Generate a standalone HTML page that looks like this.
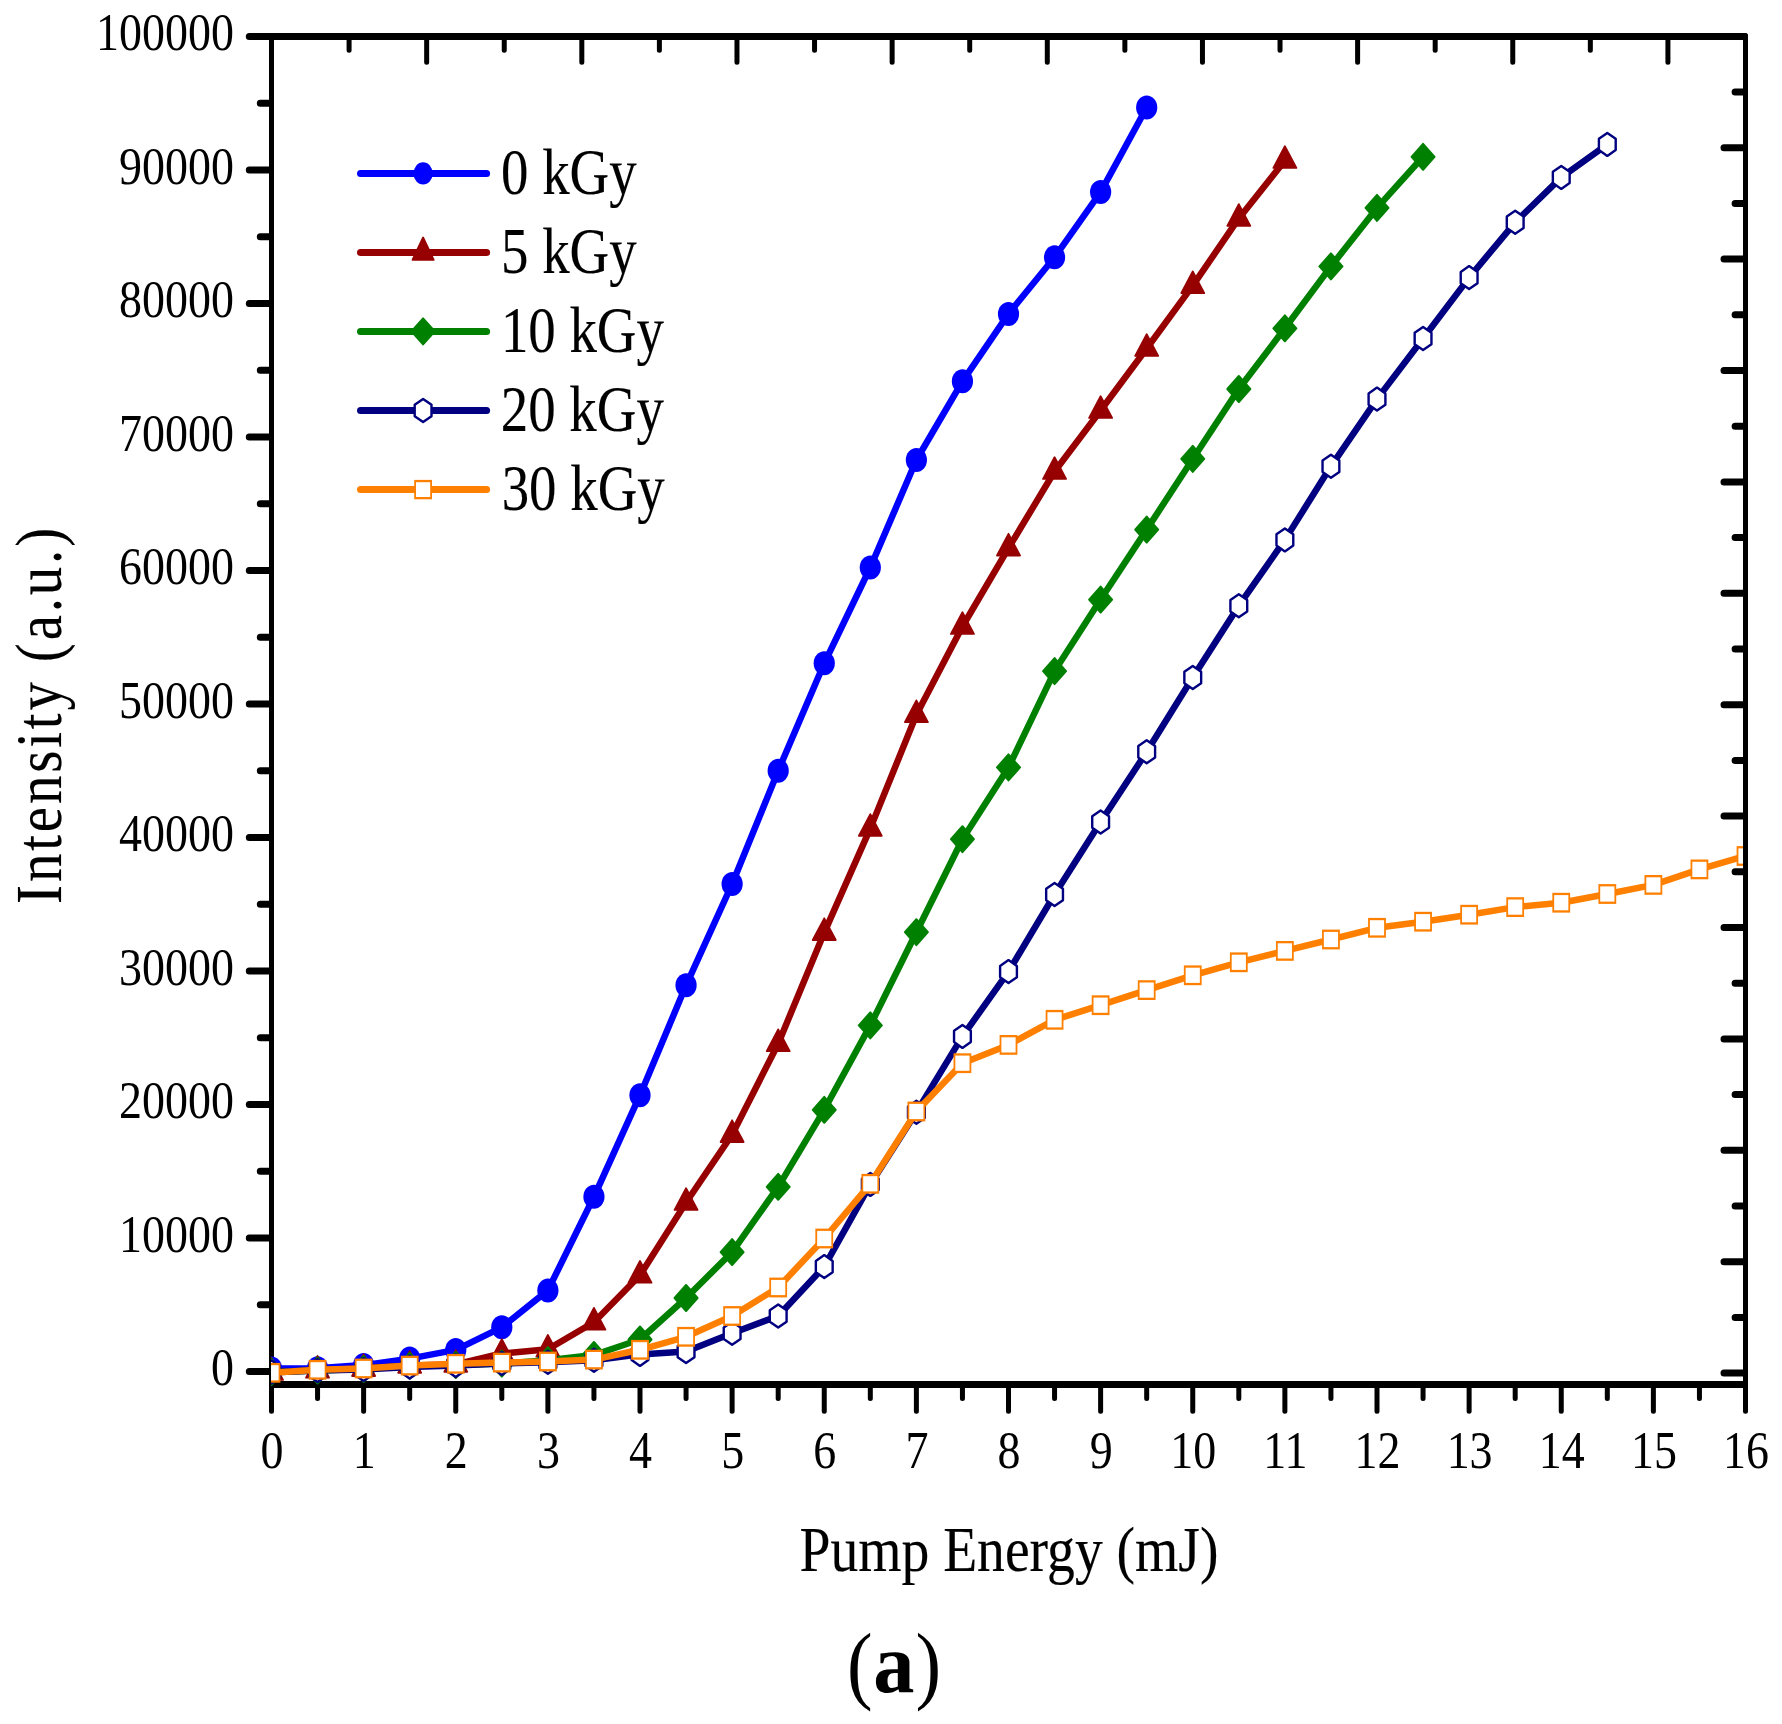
<!DOCTYPE html>
<html lang="en"><head><meta charset="utf-8"><title>Intensity vs Pump Energy (a)</title>
<style>html,body{margin:0;padding:0;background:#fff}body{width:1782px;height:1724px;overflow:hidden}svg{display:block}text{font-family:"Liberation Serif","Times New Roman",serif;fill:#000}</style></head><body>
<svg width="1782" height="1724" viewBox="0 0 1782 1724">
<rect width="1782" height="1724" fill="#fff"/>
<defs><clipPath id="plot"><rect x="271" y="33" width="1472" height="1355"/></clipPath></defs>
<path d="M249.3 36.5H1744.5 M260.3 103.25H270.5 M249.3 170.01H270.5 M260.3 236.76H270.5 M249.3 303.52H270.5 M260.3 370.27H270.5 M249.3 437.03H270.5 M260.3 503.78H270.5 M249.3 570.54H270.5 M260.3 637.29H270.5 M249.3 704.05H270.5 M260.3 770.8H270.5 M249.3 837.56H270.5 M260.3 904.31H270.5 M249.3 971.07H270.5 M260.3 1037.82H270.5 M249.3 1104.58H270.5 M260.3 1171.34H270.5 M249.3 1238.09H270.5 M260.3 1304.84H270.5 M249.3 1371.6H270.5 M1724 1373.1H1744.5 M1735.1 1317.4H1744.5 M1724 1261.7H1744.5 M1735.1 1206H1744.5 M1724 1150.3H1744.5 M1735.1 1094.6H1744.5 M1724 1038.9H1744.5 M1735.1 983.2H1744.5 M1724 927.5H1744.5 M1735.1 871.8H1744.5 M1724 816.1H1744.5 M1735.1 760.4H1744.5 M1724 704.7H1744.5 M1735.1 649H1744.5 M1724 593.3H1744.5 M1735.1 537.6H1744.5 M1724 481.9H1744.5 M1735.1 426.2H1744.5 M1724 370.5H1744.5 M1735.1 314.8H1744.5 M1724 259.1H1744.5 M1735.1 203.4H1744.5 M1724 147.7H1744.5 M1735.1 92H1744.5" stroke="#000" stroke-width="7" stroke-linecap="round" fill="none"/>
<path d="M269 1384.5H1748" stroke="#000" stroke-width="7" fill="none"/>
<path d="M271.5 36.5V1411.2 M1745.5 35.5V1411.2 M363.62 1384.5V1411.2 M455.75 1384.5V1411.2 M547.88 1384.5V1411.2 M640 1384.5V1411.2 M732.12 1384.5V1411.2 M824.25 1384.5V1411.2 M916.38 1384.5V1411.2 M1008.5 1384.5V1411.2 M1100.62 1384.5V1411.2 M1192.75 1384.5V1411.2 M1284.88 1384.5V1411.2 M1377 1384.5V1411.2 M1469.12 1384.5V1411.2 M1561.25 1384.5V1411.2 M1653.38 1384.5V1411.2 M317.56 1384.5V1398.4 M409.69 1384.5V1398.4 M501.81 1384.5V1398.4 M593.94 1384.5V1398.4 M686.06 1384.5V1398.4 M778.19 1384.5V1398.4 M870.31 1384.5V1398.4 M962.44 1384.5V1398.4 M1054.56 1384.5V1398.4 M1146.69 1384.5V1398.4 M1238.81 1384.5V1398.4 M1330.94 1384.5V1398.4 M1423.06 1384.5V1398.4 M1515.19 1384.5V1398.4 M1607.31 1384.5V1398.4 M1699.44 1384.5V1398.4 M349.08 36.5V50.2 M426.66 36.5V62.3 M504.24 36.5V50.2 M581.82 36.5V62.3 M659.39 36.5V50.2 M736.97 36.5V62.3 M814.55 36.5V50.2 M892.13 36.5V62.3 M969.71 36.5V50.2 M1047.29 36.5V62.3 M1124.87 36.5V50.2 M1202.45 36.5V62.3 M1280.03 36.5V50.2 M1357.61 36.5V62.3 M1435.18 36.5V50.2 M1512.76 36.5V62.3 M1590.34 36.5V50.2 M1667.92 36.5V62.3" stroke="#000" stroke-width="5" stroke-linecap="round" fill="none"/>
<g clip-path="url(#plot)">
<polyline points="271.5,1368.4 317.56,1368.2 363.62,1365.1 409.69,1358.6 455.75,1349.9 501.81,1327.3 547.88,1290.4 593.94,1196.8 640,1095.2 686.06,985.3 732.12,884 778.19,770.7 824.25,663.3 870.31,567.5 916.38,460 962.44,381.3 1008.5,313.9 1054.56,257.3 1100.62,192.1 1146.69,107.5" fill="none" stroke="#0000ff" stroke-width="6.5" stroke-linejoin="round" stroke-linecap="round"/>
<ellipse cx="271.5" cy="1368.4" rx="10.6" ry="12.0" fill="#0000ff"/>
<ellipse cx="317.56" cy="1368.2" rx="10.6" ry="12.0" fill="#0000ff"/>
<ellipse cx="363.62" cy="1365.1" rx="10.6" ry="12.0" fill="#0000ff"/>
<ellipse cx="409.69" cy="1358.6" rx="10.6" ry="12.0" fill="#0000ff"/>
<ellipse cx="455.75" cy="1349.9" rx="10.6" ry="12.0" fill="#0000ff"/>
<ellipse cx="501.81" cy="1327.3" rx="10.6" ry="12.0" fill="#0000ff"/>
<ellipse cx="547.88" cy="1290.4" rx="10.6" ry="12.0" fill="#0000ff"/>
<ellipse cx="593.94" cy="1196.8" rx="10.6" ry="12.0" fill="#0000ff"/>
<ellipse cx="640" cy="1095.2" rx="10.6" ry="12.0" fill="#0000ff"/>
<ellipse cx="686.06" cy="985.3" rx="10.6" ry="12.0" fill="#0000ff"/>
<ellipse cx="732.12" cy="884" rx="10.6" ry="12.0" fill="#0000ff"/>
<ellipse cx="778.19" cy="770.7" rx="10.6" ry="12.0" fill="#0000ff"/>
<ellipse cx="824.25" cy="663.3" rx="10.6" ry="12.0" fill="#0000ff"/>
<ellipse cx="870.31" cy="567.5" rx="10.6" ry="12.0" fill="#0000ff"/>
<ellipse cx="916.38" cy="460" rx="10.6" ry="12.0" fill="#0000ff"/>
<ellipse cx="962.44" cy="381.3" rx="10.6" ry="12.0" fill="#0000ff"/>
<ellipse cx="1008.5" cy="313.9" rx="10.6" ry="12.0" fill="#0000ff"/>
<ellipse cx="1054.56" cy="257.3" rx="10.6" ry="12.0" fill="#0000ff"/>
<ellipse cx="1100.62" cy="192.1" rx="10.6" ry="12.0" fill="#0000ff"/>
<ellipse cx="1146.69" cy="107.5" rx="10.6" ry="12.0" fill="#0000ff"/>
<polyline points="271.5,1372.5 317.56,1370.3 363.62,1368.6 409.69,1365.4 455.75,1364.4 501.81,1353.5 547.88,1349.3 593.94,1322.2 640,1275.3 686.06,1202.5 732.12,1134.6 778.19,1043.7 824.25,932.6 870.31,828.4 916.38,714.7 962.44,626.5 1008.5,548.1 1054.56,471.5 1100.62,410.5 1146.69,348.5 1192.75,285.7 1238.81,218.4 1284.88,160.5" fill="none" stroke="#960000" stroke-width="6.5" stroke-linejoin="round" stroke-linecap="round"/>
<polygon points="271.5,1358.2 283,1379.9 260,1379.9" fill="#960000" stroke="#960000" stroke-width="1.8" stroke-linejoin="round"/>
<polygon points="317.56,1356 329.06,1377.7 306.06,1377.7" fill="#960000" stroke="#960000" stroke-width="1.8" stroke-linejoin="round"/>
<polygon points="363.62,1354.3 375.12,1376 352.12,1376" fill="#960000" stroke="#960000" stroke-width="1.8" stroke-linejoin="round"/>
<polygon points="409.69,1351.1 421.19,1372.8 398.19,1372.8" fill="#960000" stroke="#960000" stroke-width="1.8" stroke-linejoin="round"/>
<polygon points="455.75,1350.1 467.25,1371.8 444.25,1371.8" fill="#960000" stroke="#960000" stroke-width="1.8" stroke-linejoin="round"/>
<polygon points="501.81,1339.2 513.31,1360.9 490.31,1360.9" fill="#960000" stroke="#960000" stroke-width="1.8" stroke-linejoin="round"/>
<polygon points="547.88,1335 559.38,1356.7 536.38,1356.7" fill="#960000" stroke="#960000" stroke-width="1.8" stroke-linejoin="round"/>
<polygon points="593.94,1307.9 605.44,1329.6 582.44,1329.6" fill="#960000" stroke="#960000" stroke-width="1.8" stroke-linejoin="round"/>
<polygon points="640,1261 651.5,1282.7 628.5,1282.7" fill="#960000" stroke="#960000" stroke-width="1.8" stroke-linejoin="round"/>
<polygon points="686.06,1188.2 697.56,1209.9 674.56,1209.9" fill="#960000" stroke="#960000" stroke-width="1.8" stroke-linejoin="round"/>
<polygon points="732.12,1120.3 743.62,1142 720.62,1142" fill="#960000" stroke="#960000" stroke-width="1.8" stroke-linejoin="round"/>
<polygon points="778.19,1029.4 789.69,1051.1 766.69,1051.1" fill="#960000" stroke="#960000" stroke-width="1.8" stroke-linejoin="round"/>
<polygon points="824.25,918.3 835.75,940 812.75,940" fill="#960000" stroke="#960000" stroke-width="1.8" stroke-linejoin="round"/>
<polygon points="870.31,814.1 881.81,835.8 858.81,835.8" fill="#960000" stroke="#960000" stroke-width="1.8" stroke-linejoin="round"/>
<polygon points="916.38,700.4 927.88,722.1 904.88,722.1" fill="#960000" stroke="#960000" stroke-width="1.8" stroke-linejoin="round"/>
<polygon points="962.44,612.2 973.94,633.9 950.94,633.9" fill="#960000" stroke="#960000" stroke-width="1.8" stroke-linejoin="round"/>
<polygon points="1008.5,533.8 1020,555.5 997,555.5" fill="#960000" stroke="#960000" stroke-width="1.8" stroke-linejoin="round"/>
<polygon points="1054.56,457.2 1066.06,478.9 1043.06,478.9" fill="#960000" stroke="#960000" stroke-width="1.8" stroke-linejoin="round"/>
<polygon points="1100.62,396.2 1112.12,417.9 1089.12,417.9" fill="#960000" stroke="#960000" stroke-width="1.8" stroke-linejoin="round"/>
<polygon points="1146.69,334.2 1158.19,355.9 1135.19,355.9" fill="#960000" stroke="#960000" stroke-width="1.8" stroke-linejoin="round"/>
<polygon points="1192.75,271.4 1204.25,293.1 1181.25,293.1" fill="#960000" stroke="#960000" stroke-width="1.8" stroke-linejoin="round"/>
<polygon points="1238.81,204.1 1250.31,225.8 1227.31,225.8" fill="#960000" stroke="#960000" stroke-width="1.8" stroke-linejoin="round"/>
<polygon points="1284.88,146.2 1296.38,167.9 1273.38,167.9" fill="#960000" stroke="#960000" stroke-width="1.8" stroke-linejoin="round"/>
<polyline points="271.5,1372 317.56,1370.5 363.62,1369 409.69,1365.8 455.75,1365 501.81,1363.6 547.88,1360.2 593.94,1355 640,1339.5 686.06,1298 732.12,1252.1 778.19,1186.8 824.25,1109.8 870.31,1025.4 916.38,932.2 962.44,839.2 1008.5,767.4 1054.56,671.1 1100.62,599.6 1146.69,529.6 1192.75,458.9 1238.81,389 1284.88,328.3 1330.94,266.4 1377,207.9 1423.06,156.8" fill="none" stroke="#008000" stroke-width="6.5" stroke-linejoin="round" stroke-linecap="round"/>
<polygon points="271.5,1359 283,1372 271.5,1385 260,1372" fill="#008000" stroke="#008000" stroke-width="2" stroke-linejoin="round"/>
<polygon points="317.56,1357.5 329.06,1370.5 317.56,1383.5 306.06,1370.5" fill="#008000" stroke="#008000" stroke-width="2" stroke-linejoin="round"/>
<polygon points="363.62,1356 375.12,1369 363.62,1382 352.12,1369" fill="#008000" stroke="#008000" stroke-width="2" stroke-linejoin="round"/>
<polygon points="409.69,1352.8 421.19,1365.8 409.69,1378.8 398.19,1365.8" fill="#008000" stroke="#008000" stroke-width="2" stroke-linejoin="round"/>
<polygon points="455.75,1352 467.25,1365 455.75,1378 444.25,1365" fill="#008000" stroke="#008000" stroke-width="2" stroke-linejoin="round"/>
<polygon points="501.81,1350.6 513.31,1363.6 501.81,1376.6 490.31,1363.6" fill="#008000" stroke="#008000" stroke-width="2" stroke-linejoin="round"/>
<polygon points="547.88,1347.2 559.38,1360.2 547.88,1373.2 536.38,1360.2" fill="#008000" stroke="#008000" stroke-width="2" stroke-linejoin="round"/>
<polygon points="593.94,1342 605.44,1355 593.94,1368 582.44,1355" fill="#008000" stroke="#008000" stroke-width="2" stroke-linejoin="round"/>
<polygon points="640,1326.5 651.5,1339.5 640,1352.5 628.5,1339.5" fill="#008000" stroke="#008000" stroke-width="2" stroke-linejoin="round"/>
<polygon points="686.06,1285 697.56,1298 686.06,1311 674.56,1298" fill="#008000" stroke="#008000" stroke-width="2" stroke-linejoin="round"/>
<polygon points="732.12,1239.1 743.62,1252.1 732.12,1265.1 720.62,1252.1" fill="#008000" stroke="#008000" stroke-width="2" stroke-linejoin="round"/>
<polygon points="778.19,1173.8 789.69,1186.8 778.19,1199.8 766.69,1186.8" fill="#008000" stroke="#008000" stroke-width="2" stroke-linejoin="round"/>
<polygon points="824.25,1096.8 835.75,1109.8 824.25,1122.8 812.75,1109.8" fill="#008000" stroke="#008000" stroke-width="2" stroke-linejoin="round"/>
<polygon points="870.31,1012.4 881.81,1025.4 870.31,1038.4 858.81,1025.4" fill="#008000" stroke="#008000" stroke-width="2" stroke-linejoin="round"/>
<polygon points="916.38,919.2 927.88,932.2 916.38,945.2 904.88,932.2" fill="#008000" stroke="#008000" stroke-width="2" stroke-linejoin="round"/>
<polygon points="962.44,826.2 973.94,839.2 962.44,852.2 950.94,839.2" fill="#008000" stroke="#008000" stroke-width="2" stroke-linejoin="round"/>
<polygon points="1008.5,754.4 1020,767.4 1008.5,780.4 997,767.4" fill="#008000" stroke="#008000" stroke-width="2" stroke-linejoin="round"/>
<polygon points="1054.56,658.1 1066.06,671.1 1054.56,684.1 1043.06,671.1" fill="#008000" stroke="#008000" stroke-width="2" stroke-linejoin="round"/>
<polygon points="1100.62,586.6 1112.12,599.6 1100.62,612.6 1089.12,599.6" fill="#008000" stroke="#008000" stroke-width="2" stroke-linejoin="round"/>
<polygon points="1146.69,516.6 1158.19,529.6 1146.69,542.6 1135.19,529.6" fill="#008000" stroke="#008000" stroke-width="2" stroke-linejoin="round"/>
<polygon points="1192.75,445.9 1204.25,458.9 1192.75,471.9 1181.25,458.9" fill="#008000" stroke="#008000" stroke-width="2" stroke-linejoin="round"/>
<polygon points="1238.81,376 1250.31,389 1238.81,402 1227.31,389" fill="#008000" stroke="#008000" stroke-width="2" stroke-linejoin="round"/>
<polygon points="1284.88,315.3 1296.38,328.3 1284.88,341.3 1273.38,328.3" fill="#008000" stroke="#008000" stroke-width="2" stroke-linejoin="round"/>
<polygon points="1330.94,253.4 1342.44,266.4 1330.94,279.4 1319.44,266.4" fill="#008000" stroke="#008000" stroke-width="2" stroke-linejoin="round"/>
<polygon points="1377,194.9 1388.5,207.9 1377,220.9 1365.5,207.9" fill="#008000" stroke="#008000" stroke-width="2" stroke-linejoin="round"/>
<polygon points="1423.06,143.8 1434.56,156.8 1423.06,169.8 1411.56,156.8" fill="#008000" stroke="#008000" stroke-width="2" stroke-linejoin="round"/>
<polyline points="271.5,1372 317.56,1370.5 363.62,1369.5 409.69,1367 455.75,1365.5 501.81,1363.4 547.88,1362.3 593.94,1360.3 640,1354.4 686.06,1351.6 732.12,1333.3 778.19,1316 824.25,1266.6 870.31,1184.4 916.38,1112.2 962.44,1036.4 1008.5,971.6 1054.56,894.5 1100.62,822 1146.69,751.8 1192.75,677.5 1238.81,605.7 1284.88,539.9 1330.94,466.3 1377,399.1 1423.06,338.5 1469.12,277.6 1515.19,222.3 1561.25,177.4 1607.31,144.4" fill="none" stroke="#000080" stroke-width="6.5" stroke-linejoin="round" stroke-linecap="round"/>
<polygon points="271.5,1360.5 279.9,1366.3 279.9,1377.7 271.5,1383.5 263.1,1377.7 263.1,1366.3" fill="#fff" stroke="#000080" stroke-width="2.4" stroke-linejoin="round"/>
<polygon points="317.56,1359 325.96,1364.8 325.96,1376.2 317.56,1382 309.16,1376.2 309.16,1364.8" fill="#fff" stroke="#000080" stroke-width="2.4" stroke-linejoin="round"/>
<polygon points="363.62,1358 372.02,1363.8 372.02,1375.2 363.62,1381 355.23,1375.2 355.23,1363.8" fill="#fff" stroke="#000080" stroke-width="2.4" stroke-linejoin="round"/>
<polygon points="409.69,1355.5 418.09,1361.3 418.09,1372.7 409.69,1378.5 401.29,1372.7 401.29,1361.3" fill="#fff" stroke="#000080" stroke-width="2.4" stroke-linejoin="round"/>
<polygon points="455.75,1354 464.15,1359.8 464.15,1371.2 455.75,1377 447.35,1371.2 447.35,1359.8" fill="#fff" stroke="#000080" stroke-width="2.4" stroke-linejoin="round"/>
<polygon points="501.81,1351.9 510.21,1357.7 510.21,1369.1 501.81,1374.9 493.41,1369.1 493.41,1357.7" fill="#fff" stroke="#000080" stroke-width="2.4" stroke-linejoin="round"/>
<polygon points="547.88,1350.8 556.27,1356.6 556.27,1368 547.88,1373.8 539.48,1368 539.48,1356.6" fill="#fff" stroke="#000080" stroke-width="2.4" stroke-linejoin="round"/>
<polygon points="593.94,1348.8 602.34,1354.6 602.34,1366 593.94,1371.8 585.54,1366 585.54,1354.6" fill="#fff" stroke="#000080" stroke-width="2.4" stroke-linejoin="round"/>
<polygon points="640,1342.9 648.4,1348.7 648.4,1360.1 640,1365.9 631.6,1360.1 631.6,1348.7" fill="#fff" stroke="#000080" stroke-width="2.4" stroke-linejoin="round"/>
<polygon points="686.06,1340.1 694.46,1345.9 694.46,1357.3 686.06,1363.1 677.66,1357.3 677.66,1345.9" fill="#fff" stroke="#000080" stroke-width="2.4" stroke-linejoin="round"/>
<polygon points="732.12,1321.8 740.52,1327.6 740.52,1339 732.12,1344.8 723.73,1339 723.73,1327.6" fill="#fff" stroke="#000080" stroke-width="2.4" stroke-linejoin="round"/>
<polygon points="778.19,1304.5 786.59,1310.3 786.59,1321.7 778.19,1327.5 769.79,1321.7 769.79,1310.3" fill="#fff" stroke="#000080" stroke-width="2.4" stroke-linejoin="round"/>
<polygon points="824.25,1255.1 832.65,1260.9 832.65,1272.3 824.25,1278.1 815.85,1272.3 815.85,1260.9" fill="#fff" stroke="#000080" stroke-width="2.4" stroke-linejoin="round"/>
<polygon points="870.31,1172.9 878.71,1178.7 878.71,1190.1 870.31,1195.9 861.91,1190.1 861.91,1178.7" fill="#fff" stroke="#000080" stroke-width="2.4" stroke-linejoin="round"/>
<polygon points="916.38,1100.7 924.77,1106.5 924.77,1117.9 916.38,1123.7 907.98,1117.9 907.98,1106.5" fill="#fff" stroke="#000080" stroke-width="2.4" stroke-linejoin="round"/>
<polygon points="962.44,1024.9 970.84,1030.7 970.84,1042.1 962.44,1047.9 954.04,1042.1 954.04,1030.7" fill="#fff" stroke="#000080" stroke-width="2.4" stroke-linejoin="round"/>
<polygon points="1008.5,960.1 1016.9,965.9 1016.9,977.3 1008.5,983.1 1000.1,977.3 1000.1,965.9" fill="#fff" stroke="#000080" stroke-width="2.4" stroke-linejoin="round"/>
<polygon points="1054.56,883 1062.96,888.8 1062.96,900.2 1054.56,906 1046.16,900.2 1046.16,888.8" fill="#fff" stroke="#000080" stroke-width="2.4" stroke-linejoin="round"/>
<polygon points="1100.62,810.5 1109.03,816.3 1109.03,827.7 1100.62,833.5 1092.22,827.7 1092.22,816.3" fill="#fff" stroke="#000080" stroke-width="2.4" stroke-linejoin="round"/>
<polygon points="1146.69,740.3 1155.09,746.1 1155.09,757.5 1146.69,763.3 1138.29,757.5 1138.29,746.1" fill="#fff" stroke="#000080" stroke-width="2.4" stroke-linejoin="round"/>
<polygon points="1192.75,666 1201.15,671.8 1201.15,683.2 1192.75,689 1184.35,683.2 1184.35,671.8" fill="#fff" stroke="#000080" stroke-width="2.4" stroke-linejoin="round"/>
<polygon points="1238.81,594.2 1247.21,600 1247.21,611.4 1238.81,617.2 1230.41,611.4 1230.41,600" fill="#fff" stroke="#000080" stroke-width="2.4" stroke-linejoin="round"/>
<polygon points="1284.88,528.4 1293.28,534.2 1293.28,545.6 1284.88,551.4 1276.47,545.6 1276.47,534.2" fill="#fff" stroke="#000080" stroke-width="2.4" stroke-linejoin="round"/>
<polygon points="1330.94,454.8 1339.34,460.6 1339.34,472 1330.94,477.8 1322.54,472 1322.54,460.6" fill="#fff" stroke="#000080" stroke-width="2.4" stroke-linejoin="round"/>
<polygon points="1377,387.6 1385.4,393.4 1385.4,404.8 1377,410.6 1368.6,404.8 1368.6,393.4" fill="#fff" stroke="#000080" stroke-width="2.4" stroke-linejoin="round"/>
<polygon points="1423.06,327 1431.46,332.8 1431.46,344.2 1423.06,350 1414.66,344.2 1414.66,332.8" fill="#fff" stroke="#000080" stroke-width="2.4" stroke-linejoin="round"/>
<polygon points="1469.12,266.1 1477.53,271.9 1477.53,283.3 1469.12,289.1 1460.72,283.3 1460.72,271.9" fill="#fff" stroke="#000080" stroke-width="2.4" stroke-linejoin="round"/>
<polygon points="1515.19,210.8 1523.59,216.6 1523.59,228 1515.19,233.8 1506.79,228 1506.79,216.6" fill="#fff" stroke="#000080" stroke-width="2.4" stroke-linejoin="round"/>
<polygon points="1561.25,165.9 1569.65,171.7 1569.65,183.1 1561.25,188.9 1552.85,183.1 1552.85,171.7" fill="#fff" stroke="#000080" stroke-width="2.4" stroke-linejoin="round"/>
<polygon points="1607.31,132.9 1615.71,138.7 1615.71,150.1 1607.31,155.9 1598.91,150.1 1598.91,138.7" fill="#fff" stroke="#000080" stroke-width="2.4" stroke-linejoin="round"/>
<polyline points="271.5,1372.8 317.56,1369.8 363.62,1368.5 409.69,1365.6 455.75,1363.8 501.81,1362.6 547.88,1361.5 593.94,1359.6 640,1349.8 686.06,1336.8 732.12,1316 778.19,1287.5 824.25,1238.5 870.31,1183.8 916.38,1111.5 962.44,1063.2 1008.5,1044.9 1054.56,1019.8 1100.62,1005.2 1146.69,990.1 1192.75,975.3 1238.81,962.3 1284.88,950.9 1330.94,939.5 1377,927.8 1423.06,921.7 1469.12,914.7 1515.19,907.1 1561.25,902.7 1607.31,894 1653.38,884.9 1699.44,869.4 1745.5,856" fill="none" stroke="#ff8000" stroke-width="6.5" stroke-linejoin="round" stroke-linecap="round"/>
<rect x="262.6" y="1362.9" width="17.8" height="19.8" fill="#ff8000"/><rect x="264.4" y="1365.2" width="14.2" height="15.2" fill="#fff"/>
<rect x="308.66" y="1359.9" width="17.8" height="19.8" fill="#ff8000"/><rect x="310.46" y="1362.2" width="14.2" height="15.2" fill="#fff"/>
<rect x="354.73" y="1358.6" width="17.8" height="19.8" fill="#ff8000"/><rect x="356.53" y="1360.9" width="14.2" height="15.2" fill="#fff"/>
<rect x="400.79" y="1355.7" width="17.8" height="19.8" fill="#ff8000"/><rect x="402.59" y="1358" width="14.2" height="15.2" fill="#fff"/>
<rect x="446.85" y="1353.9" width="17.8" height="19.8" fill="#ff8000"/><rect x="448.65" y="1356.2" width="14.2" height="15.2" fill="#fff"/>
<rect x="492.91" y="1352.7" width="17.8" height="19.8" fill="#ff8000"/><rect x="494.71" y="1355" width="14.2" height="15.2" fill="#fff"/>
<rect x="538.98" y="1351.6" width="17.8" height="19.8" fill="#ff8000"/><rect x="540.77" y="1353.9" width="14.2" height="15.2" fill="#fff"/>
<rect x="585.04" y="1349.7" width="17.8" height="19.8" fill="#ff8000"/><rect x="586.84" y="1352" width="14.2" height="15.2" fill="#fff"/>
<rect x="631.1" y="1339.9" width="17.8" height="19.8" fill="#ff8000"/><rect x="632.9" y="1342.2" width="14.2" height="15.2" fill="#fff"/>
<rect x="677.16" y="1326.9" width="17.8" height="19.8" fill="#ff8000"/><rect x="678.96" y="1329.2" width="14.2" height="15.2" fill="#fff"/>
<rect x="723.23" y="1306.1" width="17.8" height="19.8" fill="#ff8000"/><rect x="725.02" y="1308.4" width="14.2" height="15.2" fill="#fff"/>
<rect x="769.29" y="1277.6" width="17.8" height="19.8" fill="#ff8000"/><rect x="771.09" y="1279.9" width="14.2" height="15.2" fill="#fff"/>
<rect x="815.35" y="1228.6" width="17.8" height="19.8" fill="#ff8000"/><rect x="817.15" y="1230.9" width="14.2" height="15.2" fill="#fff"/>
<rect x="861.41" y="1173.9" width="17.8" height="19.8" fill="#ff8000"/><rect x="863.21" y="1176.2" width="14.2" height="15.2" fill="#fff"/>
<rect x="907.48" y="1101.6" width="17.8" height="19.8" fill="#ff8000"/><rect x="909.27" y="1103.9" width="14.2" height="15.2" fill="#fff"/>
<rect x="953.54" y="1053.3" width="17.8" height="19.8" fill="#ff8000"/><rect x="955.34" y="1055.6" width="14.2" height="15.2" fill="#fff"/>
<rect x="999.6" y="1035" width="17.8" height="19.8" fill="#ff8000"/><rect x="1001.4" y="1037.3" width="14.2" height="15.2" fill="#fff"/>
<rect x="1045.66" y="1009.9" width="17.8" height="19.8" fill="#ff8000"/><rect x="1047.46" y="1012.2" width="14.2" height="15.2" fill="#fff"/>
<rect x="1091.72" y="995.3" width="17.8" height="19.8" fill="#ff8000"/><rect x="1093.52" y="997.6" width="14.2" height="15.2" fill="#fff"/>
<rect x="1137.79" y="980.2" width="17.8" height="19.8" fill="#ff8000"/><rect x="1139.59" y="982.5" width="14.2" height="15.2" fill="#fff"/>
<rect x="1183.85" y="965.4" width="17.8" height="19.8" fill="#ff8000"/><rect x="1185.65" y="967.7" width="14.2" height="15.2" fill="#fff"/>
<rect x="1229.91" y="952.4" width="17.8" height="19.8" fill="#ff8000"/><rect x="1231.71" y="954.7" width="14.2" height="15.2" fill="#fff"/>
<rect x="1275.97" y="941" width="17.8" height="19.8" fill="#ff8000"/><rect x="1277.77" y="943.3" width="14.2" height="15.2" fill="#fff"/>
<rect x="1322.04" y="929.6" width="17.8" height="19.8" fill="#ff8000"/><rect x="1323.84" y="931.9" width="14.2" height="15.2" fill="#fff"/>
<rect x="1368.1" y="917.9" width="17.8" height="19.8" fill="#ff8000"/><rect x="1369.9" y="920.2" width="14.2" height="15.2" fill="#fff"/>
<rect x="1414.16" y="911.8" width="17.8" height="19.8" fill="#ff8000"/><rect x="1415.96" y="914.1" width="14.2" height="15.2" fill="#fff"/>
<rect x="1460.22" y="904.8" width="17.8" height="19.8" fill="#ff8000"/><rect x="1462.02" y="907.1" width="14.2" height="15.2" fill="#fff"/>
<rect x="1506.29" y="897.2" width="17.8" height="19.8" fill="#ff8000"/><rect x="1508.09" y="899.5" width="14.2" height="15.2" fill="#fff"/>
<rect x="1552.35" y="892.8" width="17.8" height="19.8" fill="#ff8000"/><rect x="1554.15" y="895.1" width="14.2" height="15.2" fill="#fff"/>
<rect x="1598.41" y="884.1" width="17.8" height="19.8" fill="#ff8000"/><rect x="1600.21" y="886.4" width="14.2" height="15.2" fill="#fff"/>
<rect x="1644.47" y="875" width="17.8" height="19.8" fill="#ff8000"/><rect x="1646.27" y="877.3" width="14.2" height="15.2" fill="#fff"/>
<rect x="1690.54" y="859.5" width="17.8" height="19.8" fill="#ff8000"/><rect x="1692.34" y="861.8" width="14.2" height="15.2" fill="#fff"/>
<rect x="1736.6" y="846.1" width="17.8" height="19.8" fill="#ff8000"/><rect x="1738.4" y="848.4" width="14.2" height="15.2" fill="#fff"/>
</g>
<text transform="translate(233.9,50.1) scale(0.867,1)" font-size="53" text-anchor="end">100000</text>
<text transform="translate(233.9,183.61) scale(0.867,1)" font-size="53" text-anchor="end">90000</text>
<text transform="translate(233.9,317.12) scale(0.867,1)" font-size="53" text-anchor="end">80000</text>
<text transform="translate(233.9,450.63) scale(0.867,1)" font-size="53" text-anchor="end">70000</text>
<text transform="translate(233.9,584.14) scale(0.867,1)" font-size="53" text-anchor="end">60000</text>
<text transform="translate(233.9,717.65) scale(0.867,1)" font-size="53" text-anchor="end">50000</text>
<text transform="translate(233.9,851.16) scale(0.867,1)" font-size="53" text-anchor="end">40000</text>
<text transform="translate(233.9,984.67) scale(0.867,1)" font-size="53" text-anchor="end">30000</text>
<text transform="translate(233.9,1118.18) scale(0.867,1)" font-size="53" text-anchor="end">20000</text>
<text transform="translate(233.9,1251.69) scale(0.867,1)" font-size="53" text-anchor="end">10000</text>
<text transform="translate(233.9,1385.2) scale(0.867,1)" font-size="53" text-anchor="end">0</text>
<text transform="translate(272,1468.0) scale(0.867,1)" font-size="53" text-anchor="middle">0</text>
<text transform="translate(364.12,1468.0) scale(0.867,1)" font-size="53" text-anchor="middle">1</text>
<text transform="translate(456.25,1468.0) scale(0.867,1)" font-size="53" text-anchor="middle">2</text>
<text transform="translate(548.38,1468.0) scale(0.867,1)" font-size="53" text-anchor="middle">3</text>
<text transform="translate(640.5,1468.0) scale(0.867,1)" font-size="53" text-anchor="middle">4</text>
<text transform="translate(732.62,1468.0) scale(0.867,1)" font-size="53" text-anchor="middle">5</text>
<text transform="translate(824.75,1468.0) scale(0.867,1)" font-size="53" text-anchor="middle">6</text>
<text transform="translate(916.88,1468.0) scale(0.867,1)" font-size="53" text-anchor="middle">7</text>
<text transform="translate(1009,1468.0) scale(0.867,1)" font-size="53" text-anchor="middle">8</text>
<text transform="translate(1101.12,1468.0) scale(0.867,1)" font-size="53" text-anchor="middle">9</text>
<text transform="translate(1193.25,1468.0) scale(0.867,1)" font-size="53" text-anchor="middle">10</text>
<text transform="translate(1285.38,1468.0) scale(0.867,1)" font-size="53" text-anchor="middle">11</text>
<text transform="translate(1377.5,1468.0) scale(0.867,1)" font-size="53" text-anchor="middle">12</text>
<text transform="translate(1469.62,1468.0) scale(0.867,1)" font-size="53" text-anchor="middle">13</text>
<text transform="translate(1561.75,1468.0) scale(0.867,1)" font-size="53" text-anchor="middle">14</text>
<text transform="translate(1653.88,1468.0) scale(0.867,1)" font-size="53" text-anchor="middle">15</text>
<text transform="translate(1746,1468.0) scale(0.867,1)" font-size="53" text-anchor="middle">16</text>
<text transform="translate(1009,1570.9) scale(0.8785,1)" font-size="63.3" text-anchor="middle" stroke="#000" stroke-width="0.15">Pump Energy (mJ)</text>
<text transform="translate(60.9,715.9) rotate(-90) scale(0.875,1)" font-size="65" text-anchor="middle" textLength="429.7" lengthAdjust="spacing" stroke="#000" stroke-width="0.15">Intensity (a.u.)</text>
<text transform="translate(846.9,1693.2) scale(0.885,1)" font-size="86.9">(</text><text transform="translate(873.2,1691.7) scale(0.97,1)" font-size="85" font-weight="bold">a</text><text transform="translate(915.5,1693.2) scale(0.885,1)" font-size="86.9">)</text>
<path d="M360.5 173.4H486.6" stroke="#0000ff" stroke-width="7" stroke-linecap="round" fill="none"/>
<ellipse cx="423.1" cy="173.4" rx="9.5" ry="11.1" fill="#0000ff"/>
<text transform="translate(501,194.2) scale(0.844,1)" font-size="65" stroke="#000" stroke-width="0.15">0 kGy</text>
<path d="M360.5 252.5H486.6" stroke="#960000" stroke-width="7" stroke-linecap="round" fill="none"/>
<polygon points="423.1,237.5 433.7,259.8 412.5,259.8" fill="#960000" stroke="#960000" stroke-width="1.8" stroke-linejoin="round"/>
<text transform="translate(501,273.3) scale(0.844,1)" font-size="65" stroke="#000" stroke-width="0.15">5 kGy</text>
<path d="M360.5 331.4H486.6" stroke="#008000" stroke-width="7" stroke-linecap="round" fill="none"/>
<polygon points="423.1,318.4 434.8,331.4 423.1,344.4 411.4,331.4" fill="#008000" stroke="#008000" stroke-width="2" stroke-linejoin="round"/>
<text transform="translate(500.9,352.2) scale(0.844,1)" font-size="65" stroke="#000" stroke-width="0.15">10 kGy</text>
<path d="M360.5 410.5H486.6" stroke="#000080" stroke-width="7" stroke-linecap="round" fill="none"/>
<polygon points="423.1,399 431.5,404.8 431.5,416.2 423.1,422 414.7,416.2 414.7,404.8" fill="#fff" stroke="#000080" stroke-width="2.4" stroke-linejoin="round"/>
<text transform="translate(500.8,431.3) scale(0.844,1)" font-size="65" stroke="#000" stroke-width="0.15">20 kGy</text>
<path d="M360.5 489.6H486.6" stroke="#ff8000" stroke-width="7" stroke-linecap="round" fill="none"/>
<rect x="414.2" y="479.9" width="17.8" height="19.4" fill="#ff8000"/><rect x="416" y="482.2" width="14.2" height="14.8" fill="#fff"/>
<text transform="translate(501.7,510.4) scale(0.844,1)" font-size="65" stroke="#000" stroke-width="0.15">30 kGy</text>
</svg></body></html>
